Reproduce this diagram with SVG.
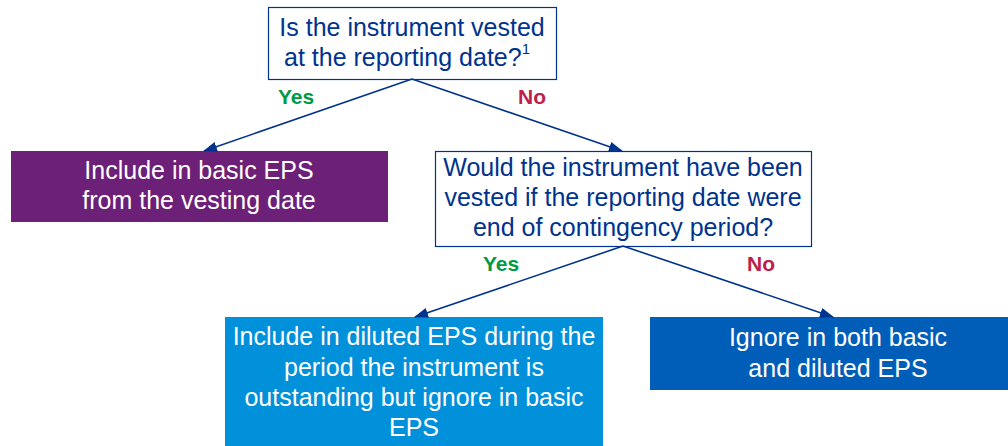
<svg xmlns="http://www.w3.org/2000/svg" width="1008" height="446" viewBox="0 0 1008 446">
<style>
.q{fill:#fff;stroke:#00338D;stroke-width:1.2}
.qt{font-family:"Liberation Sans",Arial,sans-serif;font-size:25px;fill:#00338D;text-anchor:middle}
.wt{font-family:"Liberation Sans",Arial,sans-serif;font-size:25px;fill:#fff;text-anchor:middle}
.yes{font-family:"Liberation Sans",Arial,sans-serif;font-size:21px;font-weight:bold;fill:#009A44;text-anchor:middle}
.no{font-family:"Liberation Sans",Arial,sans-serif;font-size:21px;font-weight:bold;fill:#BC204B;text-anchor:middle}
.c{stroke:#00338D;stroke-width:1.6;fill:none;marker-end:url(#ah)}
</style>
<defs>
<marker id="ah" markerWidth="14" markerHeight="10" refX="13" refY="5" orient="auto" markerUnits="userSpaceOnUse">
<path d="M0,0 L14,5 L0,10 z" fill="#00338D"/>
</marker>
</defs>
<g id="q1">
<rect class="q" x="268.5" y="7.5" width="288" height="72"/>
<text class="qt" x="412" y="36">Is the instrument vested</text>
<text class="qt" x="407" y="66">at the reporting date?<tspan font-size="15" dy="-12">1</tspan></text>
</g>
<g id="basic">
<rect x="11" y="151" width="377" height="71" fill="#6D2077"/>
<text class="wt" x="199" y="179">Include in basic EPS</text>
<text class="wt" x="199" y="209">from the vesting date</text>
</g>
<g id="q2">
<rect class="q" x="435.5" y="151.5" width="376" height="95"/>
<text class="qt" x="623" y="176">Would the instrument have been</text>
<text class="qt" x="623" y="206">vested if the reporting date were</text>
<text class="qt" x="623" y="236">end of contingency period?</text>
</g>
<g id="diluted">
<rect x="225" y="317" width="378" height="129" fill="#0091DA"/>
<text class="wt" x="414" y="345">Include in diluted EPS during the</text>
<text class="wt" x="414" y="376">period the instrument is</text>
<text class="wt" x="414" y="406">outstanding but ignore in basic</text>
<text class="wt" x="414" y="436">EPS</text>
</g>
<g id="ignore">
<rect x="650" y="317" width="358" height="73" fill="#005EB8"/>
<text class="wt" x="838" y="346">Ignore in both basic</text>
<text class="wt" x="838" y="377">and diluted EPS</text>
</g>
<g id="connectors">
<line class="c" x1="412" y1="79" x2="204" y2="151"/>
<line class="c" x1="412" y1="79" x2="622" y2="151"/>
<line class="c" x1="623" y1="246" x2="415" y2="317"/>
<line class="c" x1="623" y1="246" x2="833" y2="317"/>
<text class="yes" x="296" y="104">Yes</text>
<text class="no" x="532" y="104">No</text>
<text class="yes" x="501" y="271">Yes</text>
<text class="no" x="761" y="271">No</text>
</g>
</svg>
